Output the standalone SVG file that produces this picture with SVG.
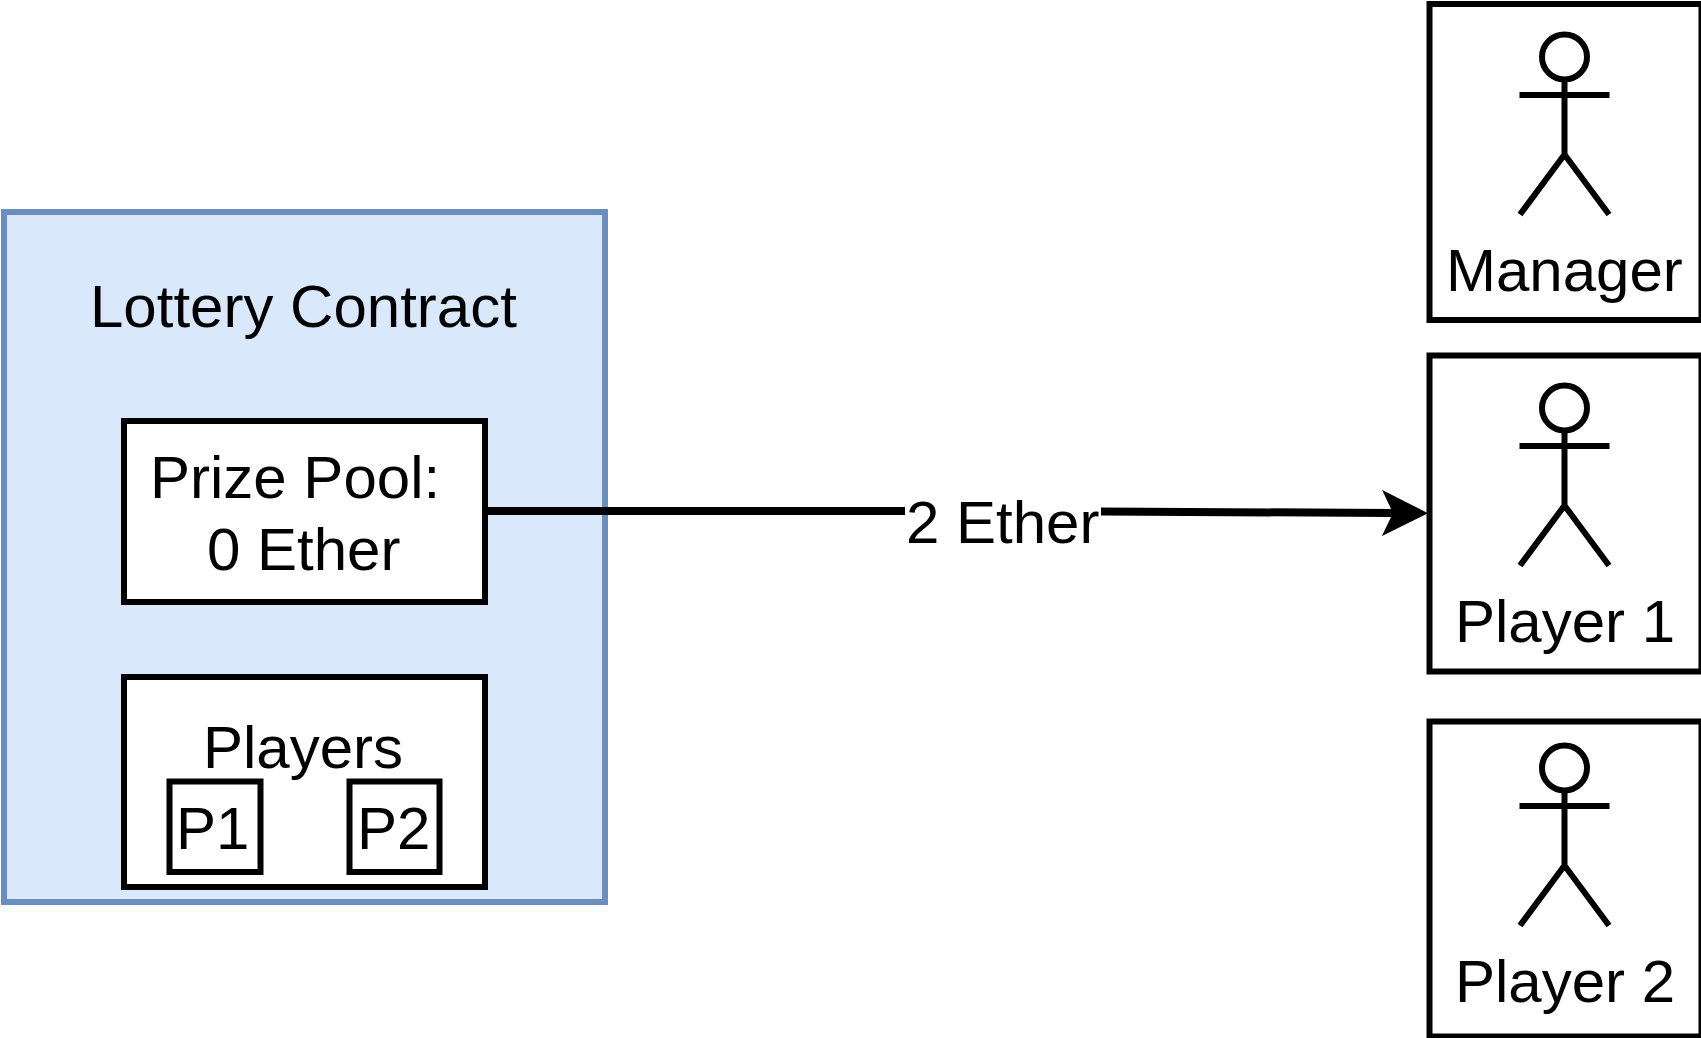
<svg xmlns="http://www.w3.org/2000/svg" width="1701" height="1038" viewBox="0 0 1701 1038">
<defs>
<style>
.box{fill:#fff;stroke:#000;stroke-width:6}
.fig{fill:none;stroke:#000;stroke-width:6}
text{font-family:"Liberation Sans",Arial,sans-serif;font-size:60px;fill:#000}
.conn{fill:none;stroke:#000;stroke-width:8}
</style>
<marker id="arrow" markerUnits="userSpaceOnUse" markerWidth="50" markerHeight="50" refX="11" refY="23" orient="auto">
<path d="M0 0L46 23L0 46L11 23Z" fill="#000"/>
</marker>
<g id="actor">
<circle class="fig" cx="0" cy="0" r="22.5"/>
<path class="fig" d="M0 22.5V97.500M-45 38H45M-44.500 157.500L0 97.500L44.500 157.500"/>
</g>
</defs>
<g id="contract">
<rect x="4" y="212" width="601" height="690" fill="#dae8fc" stroke="#6c8ebf" stroke-width="6"/>
<text x="90" y="327">Lottery Contract</text>
</g>
<g id="prize-pool">
<rect class="box" x="124" y="421" width="361" height="181"/>
<text x="150" y="498">Prize Pool:</text>
<text x="207" y="570">0 Ether</text>
</g>
<g id="players">
<rect class="box" x="124" y="677" width="361" height="210"/>
<text x="203" y="768">Players</text>
</g>
<g id="p1">
<rect class="box" x="169.500" y="781.500" width="91" height="90.500"/>
<text x="176" y="849">P1</text>
</g>
<g id="p2">
<rect class="box" x="349.500" y="781.500" width="90" height="90.500"/>
<text x="357" y="849">P2</text>
</g>
<g id="manager">
<rect class="box" x="1429.500" y="4" width="272" height="316"/>
<use href="#actor" x="1564.500" y="57"/>
<text x="1446" y="291">Manager</text>
</g>
<g id="player1">
<rect class="box" x="1429.500" y="355.500" width="272" height="316"/>
<use href="#actor" x="1564.500" y="408"/>
<text x="1455" y="642">Player 1</text>
</g>
<g id="player2">
<rect class="box" x="1429.500" y="721.500" width="272" height="315"/>
<use href="#actor" x="1564.500" y="768"/>
<text x="1455" y="1002">Player 2</text>
</g>
<g id="connectors">
<path class="conn" d="M488 511H905M1101 511.500L1393 513" marker-end="url(#arrow)"/>
<text x="906" y="543">2 Ether</text>
</g>
</svg>
